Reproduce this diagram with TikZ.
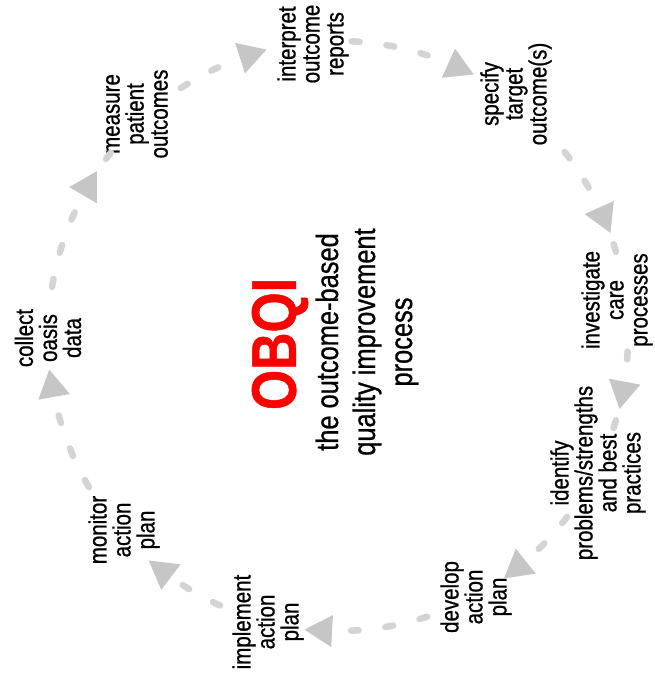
\documentclass[tikz,border=0pt]{standalone}
\usepackage{fontspec}
\setmainfont{Liberation Sans}[FakeStretch=0.82, FakeBold=0.8]
\usetikzlibrary{shapes.geometric}
\definecolor{ringgray}{RGB}{212,212,212}
\definecolor{tipgray}{RGB}{198,198,198}
\definecolor{obqired}{RGB}{255,0,0}
\begin{document}
\begin{tikzpicture}[x=1pt,y=1pt,
  stage/.style={rotate=90, align=center, inner sep=0pt, font=\fontsize{25}{24}\selectfont},
  ring/.style={draw=ringgray, line width=6.5pt, line cap=round, dash pattern=on 8pt off 27pt},
  tip/.style={regular polygon, regular polygon sides=3, fill=tipgray, draw=none, inner sep=0pt, minimum size=37pt},
]
\useasboundingbox (0,0) rectangle (654,687);
\coordinate (c) at (338,351);

% title in the middle of the cycle
\node[rotate=90, inner sep=0pt, text=obqired, font=\fontsize{63}{63}\bfseries\selectfont] (obqi) at (280,343) {OBQI};
\node[rotate=90, align=center, inner sep=0pt, font=\fontsize{31}{37}\selectfont] (subtitle) at (367,345)
  {the outcome-based\\quality improvement\\process};

% the nine stages, clockwise from the left
\node[stage] (collect)     at (48,349)  {collect\\oasis\\data};
\node[stage] (measure)     at (137,573) {measure\\patient\\outcomes};
\node[stage] (interpret)   at (313,643) {interpret\\outcome\\reports};
\node[stage] (specify)     at (516,593) {specify\\target\\outcome(s)};
\node[stage] (investigate) at (617,387) {investigate\\care\\processes};
\node[stage] (identify)    at (598,214) {identify\\problems/strengths\\and best\\practices};
\node[stage] (develop)     at (476,90)  {develop\\action\\plan};
\node[stage] (implement)   at (268,65)  {implement\\action\\plan};
\node[stage] (monitor)     at (124,157) {monitor\\action\\plan};

% dashed ring segments between the stages
\foreach \a/\b in {-189.6/-218.6, -237.2/-245.6, -272.7/-288.0, -321.4/-343.55,
                   -3.0/-18.3, -37.8/-46.2, -72.1/-87.4, -114.0/-122.4, -149.2/-164.5}
  \draw[ring] (c) ++(\a:290 and 295) arc[start angle=\a, end angle=\b, x radius=290, y radius=295];

% arrowheads on the ring, pointing clockwise
\foreach \t/\n in {-210.3/tip1, -252.1/tip2, -294.2/tip3, -336/tip4, -10.7/tip5,
                   -51.5/tip6, -93/tip7, -127/tip8, -169.9/tip9}
  \node[tip, rotate=\t-180] (\n) at ([shift={(\t:290 and 295)}]c) {};
\end{tikzpicture}
\end{document}
